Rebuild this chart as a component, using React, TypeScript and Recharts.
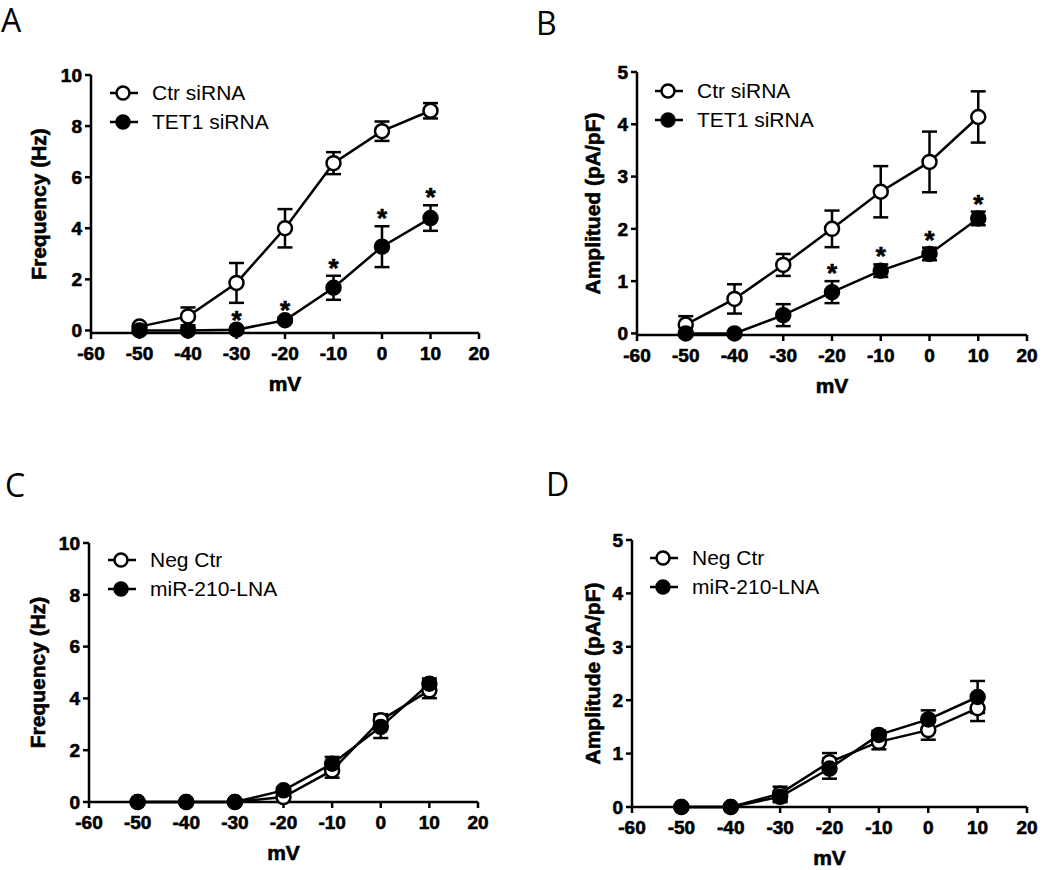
import React from "react";
import { LineChart, Line, XAxis, YAxis, ErrorBar, Legend, Label } from "recharts";

// membrane potential steps (mV)
const voltages = [-50, -40, -30, -20, -10, 0, 10];
const xTicks = [-60, -50, -40, -30, -20, -10, 0, 10, 20];
const freqTicks = [0, 2, 4, 6, 8, 10];
const ampTicks = [0, 1, 2, 3, 4, 5];

// A — frequency, Ctr siRNA vs TET1 siRNA
const freqCtr = [0.15, 0.55, 1.86, 4.0, 6.55, 7.8, 8.6];
const freqCtrErr = [0.1, 0.35, 0.78, 0.75, 0.43, 0.38, 0.3];
const freqTet = [0, 0, 0.03, 0.4, 1.67, 3.28, 4.4];
const freqTetErr = [0.05, 0.1, 0.08, 0.1, 0.47, 0.8, 0.5];
const freqStars = [false, false, true, true, true, true, true];

// B — amplitude, Ctr siRNA vs TET1 siRNA
const ampCtr = [0.17, 0.66, 1.31, 2.0, 2.71, 3.28, 4.14];
const ampCtrErr = [0.16, 0.28, 0.21, 0.35, 0.49, 0.58, 0.49];
const ampTet = [0, 0, 0.35, 0.79, 1.2, 1.52, 2.2];
const ampTetErr = [0.03, 0.03, 0.21, 0.21, 0.12, 0.12, 0.13];
const ampStars = [false, false, false, true, true, true, true];

// C — frequency, Neg Ctr vs miR-210-LNA
const negFreq = [0, 0, 0, 0.19, 1.22, 3.16, 4.31];
const negFreqErr = [0, 0, 0, 0.1, 0.28, 0.23, 0.3];
const lnaFreq = [0, 0, 0, 0.45, 1.48, 2.9, 4.57];
const lnaFreqErr = [0, 0, 0, 0.1, 0.26, 0.43, 0.2];

// D — amplitude, Neg Ctr vs miR-210-LNA
const negAmp = [0, 0, 0.25, 0.84, 1.22, 1.44, 1.85];
const negAmpErr = [0, 0, 0.13, 0.17, 0.14, 0.18, 0.24];
const lnaAmp = [0, 0, 0.19, 0.72, 1.35, 1.64, 2.06];
const lnaAmpErr = [0, 0, 0.1, 0.19, 0.08, 0.17, 0.3];
const noStars = [false, false, false, false, false, false, false];

const siNames = ["Ctr siRNA", "TET1 siRNA"];
const lnaNames = ["Neg Ctr", "miR-210-LNA"];

const FONT = "Liberation Sans, Arial, sans-serif";
const W = 530;
const H = 410;
const X_AXIS_H = 60;

// Prism-style heavy bold text
const boldText = {
  fontFamily: FONT,
  fontWeight: "bold" as const,
  fill: "#000",
  stroke: "#000",
  strokeWidth: 0.6,
};

const buildRows = (a: number[], aErr: number[], b: number[], bErr: number[], stars: boolean[]) =>
  voltages.map((mv, i) => ({
    mv,
    a: a[i],
    aErr: aErr[i],
    b: b[i],
    bErr: bErr[i],
    star: stars[i] ? b[i] + bErr[i] : null,
  }));

interface Layout {
  left: number;
  top: number;
  x0: number;
  x1: number;
  y0: number;
  y1: number;
  labelX: number;
  legendX: number;
  legendY: number;
  letterX: number;
  letterY: number;
}

const XTick = (props: any) => {
  const { x, y, payload } = props;
  return (
    <text x={x} y={y} dy={13.5} textAnchor="middle" fontSize={19} {...boldText}>
      {payload.value}
    </text>
  );
};

const YTick = (props: any) => {
  const { x, y, payload } = props;
  return (
    <text x={x} y={y} dy={6.8} textAnchor="end" fontSize={19} {...boldText}>
      {payload.value}
    </text>
  );
};

const renderStar = (props: any) => {
  const { cx, cy, value, index } = props;
  if (value == null || cx == null || cy == null) return <g key={`s${index}`} />;
  return (
    <text key={`s${index}`} x={cx} y={cy + 1} textAnchor="middle" fontSize={26} {...boldText}>
      *
    </text>
  );
};

const renderLegend = (props: any) => {
  const items = (props.payload || []).filter((p: any) => p.dataKey === "a" || p.dataKey === "b");
  return (
    <div>
      {items.map((p: any) => (
        <div key={p.value} style={{ display: "flex", alignItems: "center", height: 29 }}>
          <svg width={30} height={20}>
            <line x1={1} y1={10} x2={29} y2={10} stroke="#000" strokeWidth={2.5} />
            <circle
              cx={14}
              cy={10}
              r={6.5}
              fill={p.dataKey === "b" ? "#000" : "#fff"}
              stroke="#000"
              strokeWidth={2.5}
            />
          </svg>
          <span style={{ marginLeft: 13, fontFamily: FONT, fontSize: 21, color: "#000" }}>{p.value}</span>
        </div>
      ))}
    </div>
  );
};

interface PanelProps {
  letter: string;
  layout: Layout;
  rows: ReturnType<typeof buildRows>;
  names: string[];
  yMax: number;
  yTicks: number[];
  yLabel: string;
}

function Panel({ letter, layout, rows, names, yMax, yTicks, yLabel }: PanelProps) {
  return (
    <div style={{ position: "absolute", left: layout.left, top: layout.top, width: W, height: H }}>
      <div
        style={{
          position: "absolute",
          left: layout.letterX,
          top: layout.letterY - 33,
          fontFamily: "'Open Sans', sans-serif",
          fontSize: 32,
          lineHeight: "40px",
          color: "#000",
        }}
      >
        {letter}
      </div>
      <LineChart
        width={W}
        height={H}
        data={rows}
        margin={{ top: layout.y0, right: W - layout.x1, bottom: H - layout.y1 - X_AXIS_H, left: 0 }}
      >
        <XAxis
          type="number"
          dataKey="mv"
          domain={[-60, 20]}
          ticks={xTicks}
          interval={0}
          height={X_AXIS_H}
          tickSize={6}
          tickMargin={7}
          tick={<XTick />}
          stroke="#000"
          strokeWidth={2.5}
        >
          <Label
            content={(p: any) => {
              const vb = p.viewBox;
              return (
                <text x={vb.x + vb.width / 2} y={vb.y + 58} textAnchor="middle" fontSize={21} {...boldText}>
                  mV
                </text>
              );
            }}
          />
        </XAxis>
        <YAxis
          type="number"
          domain={[0, yMax]}
          ticks={yTicks}
          interval={0}
          width={layout.x0}
          tickSize={6}
          tickMargin={3}
          tick={<YTick />}
          stroke="#000"
          strokeWidth={2.5}
        >
          <Label
            content={(p: any) => {
              const vb = p.viewBox;
              const x = layout.labelX + 7.5;
              const y = vb.y + vb.height / 2;
              return (
                <text
                  x={x}
                  y={y}
                  transform={`rotate(-90, ${x}, ${y})`}
                  textAnchor="middle"
                  fontSize={21}
                  {...boldText}
                >
                  {yLabel}
                </text>
              );
            }}
          />
        </YAxis>
        <Legend
          layout="vertical"
          align="center"
          verticalAlign="middle"
          content={renderLegend}
          wrapperStyle={{ left: layout.legendX, top: layout.legendY, width: 260, height: 60 }}
        />
        <Line
          name={names[0]}
          dataKey="a"
          type="linear"
          stroke="#000"
          strokeWidth={2.5}
          dot={{ r: 7, fill: "#fff", stroke: "#000", strokeWidth: 2.5 }}
          activeDot={false}
          isAnimationActive={false}
        >
          <ErrorBar dataKey="aErr" width={7.5} stroke="#000" strokeWidth={2.5} direction="y" />
        </Line>
        <Line
          name={names[1]}
          dataKey="b"
          type="linear"
          stroke="#000"
          strokeWidth={2.5}
          dot={{ r: 7, fill: "#000", stroke: "#000", strokeWidth: 2.5 }}
          activeDot={false}
          isAnimationActive={false}
        >
          <ErrorBar dataKey="bErr" width={7.5} stroke="#000" strokeWidth={2.5} direction="y" />
        </Line>
        <Line
          name="stars"
          dataKey="star"
          stroke="none"
          legendType="none"
          dot={renderStar}
          activeDot={false}
          isAnimationActive={false}
        />
      </LineChart>
    </div>
  );
}

const layoutA: Layout = { left: 0, top: 0, x0: 91, x1: 479, y0: 75, y1: 333, labelX: 38, legendX: 109, legendY: 78, letterX: 1, letterY: 33 };
const layoutB: Layout = { left: 520, top: 0, x0: 117, x1: 507, y0: 72, y1: 335, labelX: 72, legendX: 134, legendY: 76, letterX: 16, letterY: 36 };
const layoutC: Layout = { left: 0, top: 460, x0: 89, x1: 478, y0: 83, y1: 342, labelX: 37, legendX: 107, legendY: 85, letterX: 5, letterY: 38 };
const layoutD: Layout = { left: 520, top: 460, x0: 112, x1: 507, y0: 80, y1: 347, labelX: 72, legendX: 129, legendY: 83, letterX: 26, letterY: 37 };

export default function App() {
  return (
    <div style={{ position: "absolute", left: 0, top: 0, width: 1050, height: 870, background: "#fff" }}>
      <Panel
        letter="A"
        layout={layoutA}
        rows={buildRows(freqCtr, freqCtrErr, freqTet, freqTetErr, freqStars)}
        names={siNames}
        yMax={10}
        yTicks={freqTicks}
        yLabel="Frequency (Hz)"
      />
      <Panel
        letter="B"
        layout={layoutB}
        rows={buildRows(ampCtr, ampCtrErr, ampTet, ampTetErr, ampStars)}
        names={siNames}
        yMax={5}
        yTicks={ampTicks}
        yLabel="Amplitued (pA/pF)"
      />
      <Panel
        letter="C"
        layout={layoutC}
        rows={buildRows(negFreq, negFreqErr, lnaFreq, lnaFreqErr, noStars)}
        names={lnaNames}
        yMax={10}
        yTicks={freqTicks}
        yLabel="Frequency (Hz)"
      />
      <Panel
        letter="D"
        layout={layoutD}
        rows={buildRows(negAmp, negAmpErr, lnaAmp, lnaAmpErr, noStars)}
        names={lnaNames}
        yMax={5}
        yTicks={ampTicks}
        yLabel="Amplitude (pA/pF)"
      />
    </div>
  );
}
